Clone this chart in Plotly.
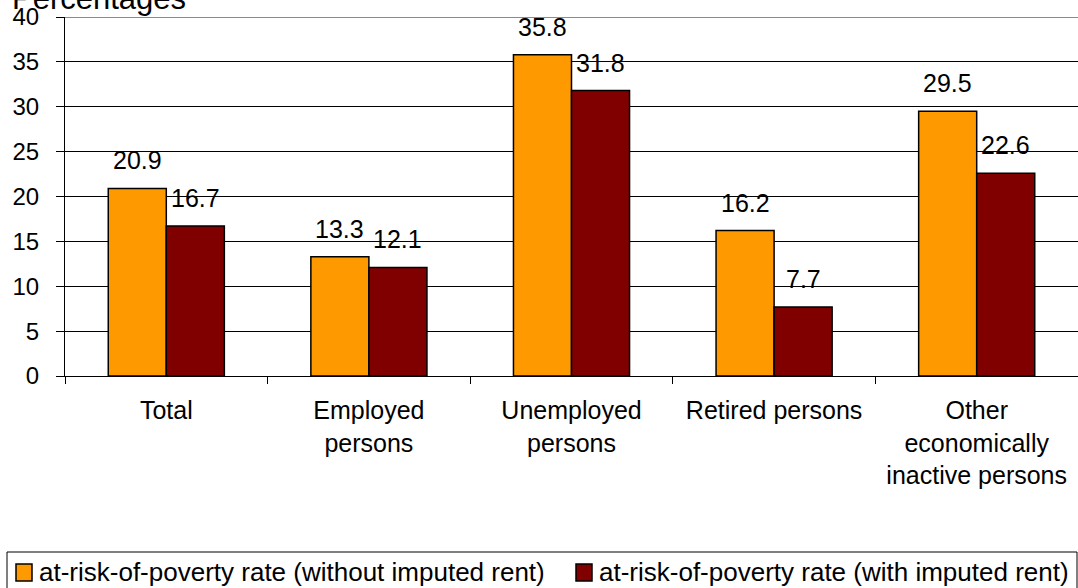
import plotly.graph_objects as go

categories = ["Total", "Employed<br>persons", "Unemployed<br>persons", "Retired persons",
              "Other<br>economically<br>inactive persons"]
without_rent = [20.9, 13.3, 35.8, 16.2, 29.5]
with_rent = [16.7, 12.1, 31.8, 7.7, 22.6]
series_names = ["at-risk-of-poverty rate (without imputed rent)",
                "at-risk-of-poverty rate (with imputed rent)"]
series_colors = ["#FF9900", "#800000"]
tick_values = [0, 5, 10, 15, 20, 25, 30, 35, 40]

FONT = "Liberation Sans, Arial, sans-serif"
W, H = 1078, 588
ML, MR, MT, MB = 65, 0, 17, 212
PW, PH = W - ML - MR, H - MT - MB


def px_x(px):
    """pixel column -> paper x"""
    return (px - ML) / PW


def px_y(py):
    """pixel row -> paper y"""
    return (H - MB - py) / PH


fig = go.Figure()
for vals, name, col in zip((without_rent, with_rent), series_names, series_colors):
    fig.add_trace(go.Bar(x=categories, y=vals, name=name, showlegend=False,
                         marker=dict(color=col, line=dict(color="black", width=1.5))))

# value labels above each bar
for i in range(len(categories)):
    for vals, off in ((without_rent, -0.143), (with_rent, 0.143)):
        fig.add_annotation(x=i + off, y=vals[i], text=f"{vals[i]:.1f}", showarrow=False,
                           xref="x", yref="y", yanchor="bottom", yshift=12,
                           font=dict(size=25, color="black", family=FONT))

# axis title in the top-left corner
fig.add_annotation(text="Percentages", xref="paper", yref="paper", x=px_x(10), y=px_y(18),
                   xanchor="left", yanchor="bottom", showarrow=False,
                   font=dict(size=31, color="black", family=FONT))

# top border of the plotting area
fig.add_shape(type="line", xref="paper", yref="y", x0=0, x1=1, y0=40, y1=40,
              line=dict(color="#8a8a8a", width=2))

# legend frame, swatches and labels
fig.add_shape(type="rect", xref="paper", yref="paper",
              x0=px_x(7), x1=px_x(1077), y0=px_y(552), y1=px_y(592),
              line=dict(color="black", width=1), fillcolor="white", layer="below")
for name, col, sx, tx in zip(series_names, series_colors, (16, 576), (37, 597)):
    fig.add_shape(type="rect", xref="paper", yref="paper",
                  x0=px_x(sx), x1=px_x(sx + 16), y0=px_y(564), y1=px_y(581),
                  line=dict(color="black", width=1.5), fillcolor=col)
    fig.add_annotation(text=name, xref="paper", yref="paper", x=px_x(tx), y=px_y(572),
                       xanchor="left", yanchor="middle", showarrow=False,
                       font=dict(size=26, color="black", family=FONT))

fig.update_layout(
    width=W, height=H,
    margin=dict(l=ML, r=MR, t=MT, b=MB),
    paper_bgcolor="white", plot_bgcolor="white",
    barmode="group", bargap=0.427, bargroupgap=0,
    font=dict(family=FONT, size=25, color="black"),
    showlegend=False,
)
fig.update_xaxes(type="category", showline=True, linecolor="black", linewidth=1,
                 ticks="outside", tickson="boundaries", ticklen=7, tickcolor="black",
                 showgrid=False, tickfont=dict(size=25, family=FONT),
                 ticklabelstandoff=12)
fig.update_yaxes(range=[0, 40], tickvals=tick_values, showline=True, linecolor="black",
                 linewidth=1, ticks="outside", ticklen=8, tickcolor="black",
                 showgrid=True, gridcolor="black", gridwidth=1, zeroline=False,
                 tickfont=dict(size=24, family=FONT), ticklabelstandoff=12)

fig.write_html("out.html")
